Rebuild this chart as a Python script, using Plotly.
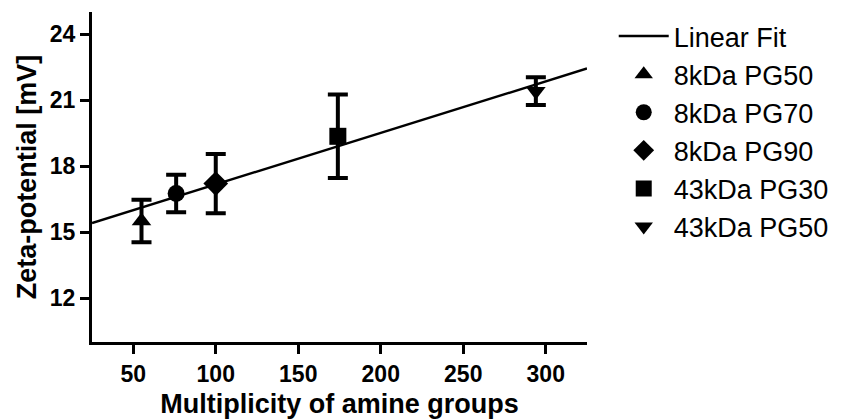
import plotly.graph_objects as go

# Data
series_names = ["8kDa PG50", "8kDa PG70", "8kDa PG90", "43kDa PG30", "43kDa PG50"]
amine_groups = [55, 76, 100, 174, 294]
zeta_mean = [15.5, 16.75, 17.2, 19.35, 21.4]
zeta_err = [0.97, 0.85, 1.35, 1.9, 0.63]
symbols = ["triangle-up", "circle", "diamond", "square", "triangle-down"]
marker_sizes = [17, 17, 19, 17, 17]

fit_x = [25, 325]
fit_y = [15.41, 22.43]

x_ticks = [50, 100, 150, 200, 250, 300]
y_ticks = [12, 15, 18, 21, 24]

fig = go.Figure()

fig.add_trace(go.Scatter(
    x=fit_x, y=fit_y, mode="lines", name="Linear Fit",
    line=dict(color="black", width=2.5), cliponaxis=False,
))

for name, xv, yv, ev, sym, ms in zip(series_names, amine_groups, zeta_mean, zeta_err, symbols, marker_sizes):
    fig.add_trace(go.Scatter(
        x=[xv], y=[yv], mode="markers", name=name,
        marker=dict(symbol=sym, size=ms, color="black"),
        error_y=dict(type="data", array=[ev], visible=True,
                     color="black", thickness=4, width=10),
        cliponaxis=False,
    ))

fam = "Liberation Sans, Arial, sans-serif"
axis_font = dict(family=fam, size=23, color="black")
title_font = dict(family=fam, size=27, color="black")

fig.update_layout(
    width=846, height=419,
    margin=dict(l=92, r=251, t=12, b=77),
    paper_bgcolor="white", plot_bgcolor="white",
    showlegend=True,
    legend=dict(
        x=1.054, y=1.0, xanchor="left", yanchor="top",
        font=dict(family=fam, size=27, color="black"),
        bgcolor="rgba(0,0,0,0)", itemwidth=50, tracegroupgap=0,
    ),
    xaxis=dict(
        range=[25, 325], tickvals=x_ticks, ticktext=["<b>%d</b>" % v for v in x_ticks],
        showgrid=False, zeroline=False, automargin=False,
        showline=True, linecolor="black", linewidth=3,
        ticks="outside", ticklen=9, tickwidth=3, tickcolor="black",
        tickfont=axis_font,
        title=dict(text="<b>Multiplicity of amine groups</b>", font=title_font, standoff=14),
    ),
    yaxis=dict(
        range=[10, 25], tickvals=y_ticks, ticktext=["<b>%d</b>" % v for v in y_ticks],
        showgrid=False, zeroline=False, automargin=False,
        showline=True, linecolor="black", linewidth=3,
        ticks="outside", ticklen=9, tickwidth=3, tickcolor="black",
        tickfont=axis_font,
        title=dict(text="<b>Zeta-potential [mV]</b>", font=title_font, standoff=6),
    ),
)

# remove the default page margin and scrollbars so the 846x419 figure fills the window exactly
fig.write_html(
    "out.html",
    config={"displayModeBar": False},
    post_script=(
        "document.body.style.margin='0';"
        "document.body.style.overflow='hidden';"
        "document.documentElement.style.overflow='hidden';"
    ),
)
